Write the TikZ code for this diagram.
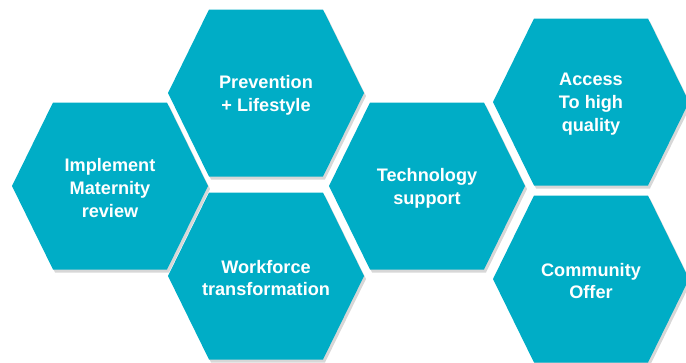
\documentclass[tikz,border=0pt]{standalone}
\usepackage{fontspec}
\setmainfont{Liberation Sans}
\usepackage{xcolor}
\definecolor{cellteal}{RGB}{0,173,198}

\begin{document}
\begin{tikzpicture}[x=0.75pt, y=0.75pt,
        cellfill/.style={fill=cellteal},
        cellshade/.style={fill=black!45, opacity=0.35},
        celltext/.style={text=white, align=center, yshift=-1.5pt,
            font=\fontsize{13.6}{17.2}\selectfont\bfseries}]
        \useasboundingbox (0, 0) rectangle (686, 362);

        \coordinate (impl) at (110, 176);
        \coordinate (prev) at (266, 269);
        \coordinate (work) at (266, 86);
        \coordinate (tech) at (427, 176);
        \coordinate (acc) at (591, 260);
        \coordinate (comm) at (591, 83);

        % hexagons
        \foreach \c in {impl, prev, work, tech, acc, comm} {
            \fill[cellshade] (\c) ++(-96, -3) -- ++(41, 83.5) -- ++(114, 0)
                -- ++(41, -83.5) -- ++(-41, -83.5) -- ++(-114, 0) -- cycle;
            \fill[cellfill] (\c) ++(-98, 0) -- ++(41, 83.5) -- ++(114, 0)
                -- ++(41, -83.5) -- ++(-41, -83.5) -- ++(-114, 0) -- cycle;
        }

        \node[celltext] (impl text) at (impl) {Implement\\Maternity\\review};
        \node[celltext] (prev text) at (prev) {Prevention\\+ Lifestyle};
        \node[celltext] (work text) at (work) {Workforce\\transformation};
        \node[celltext] (tech text) at (tech) {Technology\\support};
        \node[celltext] (acc text) at (acc) {Access\\To high\\quality};
        \node[celltext] (comm text) at (comm) {Community\\Offer};
    \end{tikzpicture}
\end{document}
